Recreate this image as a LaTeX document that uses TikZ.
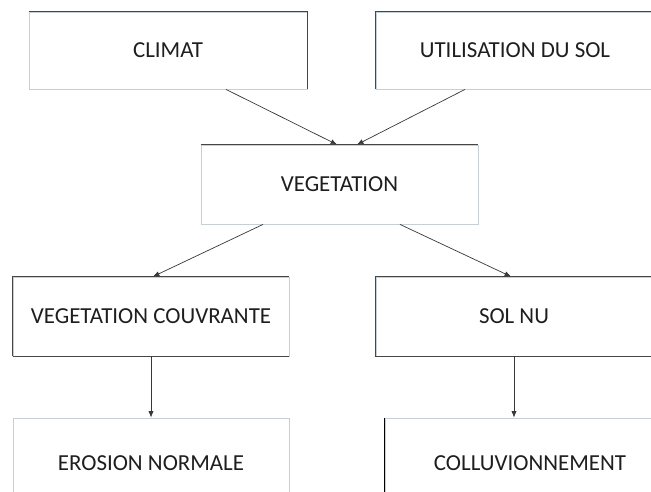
\documentclass[tikz,border=0pt]{standalone}
\usepackage{fontspec}
\setmainfont{Carlito}
\usetikzlibrary{arrows.meta}
\definecolor{lightedge}{RGB}{196,208,214}
\definecolor{darkedge}{RGB}{70,70,70}
\definecolor{ink}{RGB}{30,30,30}

\begin{document}
\begin{tikzpicture}[x=1cm,font=\fontsize{16.3}{19}\selectfont,
  box/.style={draw=lightedge,line width=0.6pt,minimum width=6.9cm,minimum height=1.975cm,inner sep=0pt,text=ink},
  dk/.style={draw=darkedge,line width=0.8pt},
  arr/.style={draw=darkedge!80!black,line width=0.5pt,-{Latex[length=1.6mm,width=1.3mm]}}]
\clip (0,0) rectangle (16.275,12.3);
\node[box,minimum width=6.95cm,minimum height=1.925cm] (climat) at (4.2,11.0375) {CLIMAT};
\node[box,minimum width=6.95cm,minimum height=1.925cm] (sol) at (12.875,11.0375) {UTILISATION DU SOL};
\node[box,minimum width=6.925cm] (veg) at (8.4875,7.6875) {VEGETATION};
\node[box] (couv) at (3.775,4.3875) {VEGETATION COUVRANTE};
\node[box] (nu) at (12.85,4.3875) {SOL NU};
\node[box,minimum height=2.25cm] (erosion) at (3.775,0.725) {EROSION NORMALE};
\node[box,minimum width=7.25cm,minimum height=2.25cm] (colluv) at (13.25,0.725) {COLLUVIONNEMENT};
\draw[dk] (climat.north west) -- (climat.north east) -- (climat.south east);
\draw[dk] (sol.south west) -- (sol.north west) -- (sol.north east);
\draw[dk] (veg.north west) -- (veg.north east);
\draw[dk] (couv.south west) -- (couv.north west) -- (couv.north east);
\draw[dk] (couv.south west) -- (couv.south east);
\draw[dk] (nu.south east) -- (nu.south west) -- (nu.north west) -- (nu.north east);
\draw[dk,draw=black] (colluv.south west) -- (colluv.north west);
\draw[arr] ([xshift=1.45cm]climat.south) -- ([xshift=-0.0625cm]veg.north);
\draw[arr] ([xshift=-1.25cm]sol.south) -- ([xshift=0.4375cm]veg.north);
\draw[arr] ([xshift=-1.9125cm]veg.south) -- ([xshift=0.05cm]couv.north);
\draw[arr] ([xshift=1.5125cm]veg.south) -- ([xshift=-0.075cm]nu.north);
\draw[arr] (couv.south) -- (erosion.north);
\draw[arr] (nu.south) -- (nu.south |- colluv.north);
\end{tikzpicture}
\end{document}
